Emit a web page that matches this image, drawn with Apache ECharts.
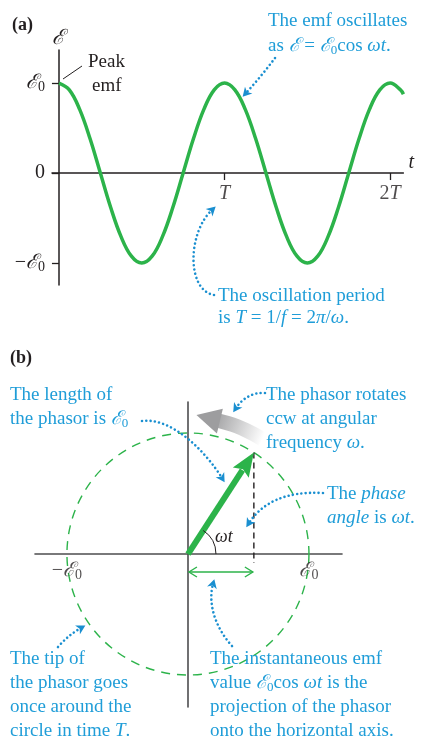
<!DOCTYPE html>
<html><head><meta charset="utf-8">
<script src="https://cdn.jsdelivr.net/npm/echarts@6/dist/echarts.min.js"></script>
<style>html,body{margin:0;padding:0;background:#fff}#c{width:426px;height:741px}</style>
</head><body><div id="c"></div>
<script>
// ---------- data ----------
// (a) emf vs time, t in units of the period T, emf in units of the peak emf
const waveT = [0, 0.0625, 0.125, 0.1875, 0.25, 0.3125, 0.375, 0.4375, 0.5, 0.5625, 0.625, 0.6875, 0.75, 0.8125, 0.875, 0.9375,
               1, 1.0625, 1.125, 1.1875, 1.25, 1.3125, 1.375, 1.4375, 1.5, 1.5625, 1.625, 1.6875, 1.75, 1.8125, 1.875, 1.9375,
               2, 2.0625, 2.08];
const waveE = [1, 0.924, 0.707, 0.383, 0, -0.383, -0.707, -0.924, -1, -0.924, -0.707, -0.383, 0, 0.383, 0.707, 0.924,
               1, 0.924, 0.707, 0.383, 0, -0.383, -0.707, -0.924, -1, -0.924, -0.707, -0.383, 0, 0.383, 0.707, 0.924,
               1, 0.924, 0.876];
const xTickValuesA = [1, 2];
const xTickLabelsA = ['{i|T}', '{n|2}{i|T}'];
const yTickValuesA = [1, 0, -1];
const yTickLabelsA = ['{e|ℰ}{s|0}', '{n|0}', '{n|−}{e|ℰ}{s|0}'];
// (b) phasor
const phasorAngleDeg = [57];
const phasorLength = [1];
const circleRadius = [1];
const xTickValuesB = [-1, 1];
const xTickLabelsB = ['{n|−}{e|ℰ}{s|0}', '{e|ℰ}{s|0}'];

// ---------- styles ----------
const GREEN = '#2cb34a';
const BLUE = '#1f9dd8';
const BLUE2 = '#1a8fd0';
const INK = '#231f20';
const SERIF = 'Liberation Serif';
const SCRIPT = 'DejaVu Serif';

function richSet(color, size) {
  return {
    n: {fontFamily: SERIF, fontSize: size, color: color},
    i: {fontFamily: SERIF, fontSize: size, fontStyle: 'italic', color: color},
    e: {fontFamily: SCRIPT, fontSize: size, fontStyle: 'italic', color: color},
    s: {fontFamily: SERIF, fontSize: Math.round(size * 0.68), color: color, padding: [9, 0, 0, 0]}
  };
}

const chart = echarts.init(document.getElementById('c'), null, {renderer: 'canvas'});

function txt(x, y, text, color, size) {
  return {
    type: 'text', silent: true, z: 10,
    style: {
      x: x, y: y, text: text, fill: color,
      font: size + 'px "' + SERIF + '"',
      verticalAlign: 'middle', align: 'left',
      rich: richSet(color, size)
    }
  };
}

function dotArrow(p0, c1, c2, p3) {
  let dx = p3[0] - c2[0], dy = p3[1] - c2[1];
  const d = Math.hypot(dx, dy); dx /= d; dy /= d;
  const px = -dy, py = dx;
  const tip = [p3[0] + dx * 5, p3[1] + dy * 5];
  const base = [tip[0] - dx * 9, tip[1] - dy * 9];
  return [
    {type: 'bezierCurve', silent: true, z: 10,
     shape: {x1: p0[0], y1: p0[1], cpx1: c1[0], cpy1: c1[1], cpx2: c2[0], cpy2: c2[1], x2: p3[0], y2: p3[1]},
     style: {stroke: BLUE2, lineWidth: 2.6, lineDash: [0.01, 4.3], lineCap: 'round', fill: null}},
    {type: 'polygon', silent: true, z: 10,
     shape: {points: [tip, [base[0] + px * 5, base[1] + py * 5], [base[0] + dx * 2.5, base[1] + dy * 2.5], [base[0] - px * 5, base[1] - py * 5]]},
     style: {fill: BLUE2}}
  ];
}

const graphics = [].concat(
  [
    {type: 'text', silent: true, style: {x: 12, y: 25, text: '(a)', fill: INK, font: 'bold 18px "' + SERIF + '"', verticalAlign: 'middle'}},
    txt(88, 62, 'Peak', INK, 19),
    txt(92, 86, 'emf', INK, 19),
    {type: 'line', silent: true, shape: {x1: 63, y1: 79, x2: 82, y2: 66}, style: {stroke: INK, lineWidth: 1}},
    txt(268, 21, 'The emf oscillates', BLUE, 19),
    txt(268, 46, '{n|as }{e|ℰ}{n| = }{e|ℰ}{s|0}{n|cos }{i|ωt}{n|.}', BLUE, 19),
    txt(218, 296, 'The oscillation period', BLUE, 19),
    txt(218, 318, '{n|is }{i|T}{n| = 1/}{i|f}{n| = 2}{i|π}{n|/}{i|ω}{n|.}', BLUE, 19),
    {type: 'text', silent: true, style: {x: 10, y: 358, text: '(b)', fill: INK, font: 'bold 18px "' + SERIF + '"', verticalAlign: 'middle'}},
    txt(10, 395, 'The length of', BLUE, 19),
    txt(10, 419, '{n|the phasor is }{e|ℰ}{s|0}', BLUE, 19),
    txt(266, 395, 'The phasor rotates', BLUE, 19),
    txt(266, 419, 'ccw at angular', BLUE, 19),
    txt(266, 443, '{n|frequency }{i|ω}{n|.}', BLUE, 19),
    txt(327, 494, '{n|The }{i|phase}', BLUE, 19),
    txt(327, 518, '{i|angle}{n| is }{i|ωt}{n|.}', BLUE, 19),
    txt(215, 537, '{i|ωt}', INK, 18),
    txt(10, 659, 'The tip of', BLUE, 19),
    txt(10, 683, 'the phasor goes', BLUE, 19),
    txt(10, 707, 'once around the', BLUE, 19),
    txt(10, 731, '{n|circle in time }{i|T}{n|.}', BLUE, 19),
    txt(210, 659, 'The instantaneous emf', BLUE, 19),
    txt(210, 683, '{n|value }{e|ℰ}{s|0}{n|cos }{i|ωt}{n| is the}', BLUE, 19),
    txt(210, 707, 'projection of the phasor', BLUE, 19),
    txt(210, 731, 'onto the horizontal axis.', BLUE, 19)
  ],
  dotArrow([275, 58], [266, 70], [256, 82], [246, 93]),
  dotArrow([214, 295], [186, 290], [188, 232], [212, 210]),
  dotArrow([142, 421], [172, 417], [206, 452], [222, 478]),
  dotArrow([265, 393], [252, 392], [242, 399], [236, 408]),
  dotArrow([323, 493], [285, 491], [262, 503], [249, 523]),
  dotArrow([232, 646], [214, 626], [208, 602], [213, 584]),
  dotArrow([58, 647], [65, 639], [72, 633], [81, 628])
);

function renderPhasor(params, api) {
  const a = phasorAngleDeg[0] * Math.PI / 180;
  const L = phasorLength[0];
  const O = api.coord([0, 0]);
  const tip = api.coord([L * Math.cos(a), L * Math.sin(a)]);
  const foot = api.coord([L * Math.cos(a), 0]);
  const sz = api.size([1, 1]);
  const children = [];
  children.push({type: 'circle', shape: {cx: O[0], cy: O[1], r: sz[0] * circleRadius[0]},
    style: {fill: null, stroke: GREEN, lineWidth: 1.4, lineDash: [9, 7]}});
  const pol = (ang, r) => api.coord([r * Math.cos(ang * Math.PI / 180), r * Math.sin(ang * Math.PI / 180)]);
  const body = [];
  const rc = 1.13, hw = 0.06;
  for (let g = 77; g >= 57; g -= 2) body.push(pol(g, rc + hw));
  for (let g = 57; g <= 77; g += 2) body.push(pol(g, rc - hw));
  const pA = pol(80, rc), pB = pol(57, rc);
  const grad = new echarts.graphic.LinearGradient(pA[0], pA[1], pB[0], pB[1],
    [{offset: 0, color: '#9d9d9f'}, {offset: 1, color: '#ffffff'}], true);
  children.push({type: 'polygon', shape: {points: body}, style: {fill: grad}});
  children.push({type: 'polygon', shape: {points: [pol(86.5, 1.15), pol(76.5, 1.235), pol(76.5, 1.025)]},
    style: {fill: '#9d9d9f'}});
  children.push({type: 'line', shape: {x1: tip[0], y1: tip[1], x2: foot[0], y2: foot[1] + 9},
    style: {stroke: INK, lineWidth: 1.4, lineDash: [6, 4]}});
  let dx = tip[0] - O[0], dy = tip[1] - O[1];
  const d = Math.hypot(dx, dy); dx /= d; dy /= d;
  const px = -dy, py = dx;
  const base = [tip[0] - dx * 24, tip[1] - dy * 24];
  children.push({type: 'line', shape: {x1: O[0], y1: O[1], x2: base[0] + dx * 3, y2: base[1] + dy * 3},
    style: {stroke: GREEN, lineWidth: 6}});
  children.push({type: 'polygon', shape: {points: [tip, [base[0] + px * 9.5, base[1] + py * 9.5],
    [base[0] + dx * 4, base[1] + dy * 4], [base[0] - px * 9.5, base[1] - py * 9.5]]}, style: {fill: GREEN}});
  children.push({type: 'arc', shape: {cx: O[0], cy: O[1], r: 28, startAngle: -a, endAngle: 0, clockwise: true},
    style: {stroke: INK, lineWidth: 1, fill: null}});
  const yy = O[1] + 18;
  children.push({type: 'line', shape: {x1: O[0] + 1, y1: yy, x2: foot[0] - 1, y2: yy}, style: {stroke: GREEN, lineWidth: 1.4}});
  children.push({type: 'polyline', shape: {points: [[O[0] + 9, yy - 5], [O[0] + 1, yy], [O[0] + 9, yy + 5]]},
    style: {stroke: GREEN, lineWidth: 1.4, fill: null}});
  children.push({type: 'polyline', shape: {points: [[foot[0] - 9, yy - 5], [foot[0] - 1, yy], [foot[0] - 9, yy + 5]]},
    style: {stroke: GREEN, lineWidth: 1.4, fill: null}});
  return {type: 'group', children: children};
}

function tickLabelSeries(xi, values, labels, distance) {
  return {
    type: 'scatter', xAxisIndex: xi, yAxisIndex: xi, symbol: 'circle', symbolSize: 1, silent: true, z: 5,
    data: values.map((v, i) => ({value: [v, 0], label: {formatter: labels[i]}})),
    label: {show: true, position: 'bottom', distance: distance, color: INK, rich: richSet(INK, 20)},
    itemStyle: {color: 'rgba(0,0,0,0)'},
    emphasis: {disabled: true}
  };
}

const option = {
  animation: false,
  backgroundColor: '#fff',
  grid: [
    {left: 52, top: 50, width: 351.4, height: 235},
    {left: 35, top: 402, width: 307, height: 305}
  ],
  xAxis: [
    {gridIndex: 0, type: 'value', min: -0.042, max: 2.08,
     name: 't', nameLocation: 'end', nameGap: 5,
     nameTextStyle: {fontFamily: SERIF, fontStyle: 'italic', fontSize: 20, color: INK, verticalAlign: 'bottom'},
     axisLine: {onZero: true, lineStyle: {color: INK, width: 1.5}},
     axisTick: {show: true, length: 7, customValues: xTickValuesA, lineStyle: {color: INK, width: 1.3}},
     axisLabel: {show: false},
     splitLine: {show: false}},
    {gridIndex: 1, type: 'value', min: -1.264, max: 1.273,
     axisLine: {onZero: true, lineStyle: {color: '#4d4d4f', width: 1.6}},
     axisTick: {show: false}, axisLabel: {show: false},
     splitLine: {show: false}}
  ],
  yAxis: [
    {gridIndex: 0, type: 'value', min: -1.244, max: 1.367,
     name: '{e|ℰ}', nameLocation: 'end', nameGap: 1,
     nameTextStyle: {rich: richSet(INK, 21), align: 'center'},
     axisLine: {onZero: true, lineStyle: {color: INK, width: 1.5}},
     axisTick: {show: true, length: 7, customValues: yTickValuesA, lineStyle: {color: INK, width: 1.3}},
     axisLabel: {show: true, customValues: yTickValuesA, margin: 7,
       formatter: v => yTickLabelsA[yTickValuesA.indexOf(v)] || '', rich: richSet(INK, 20)},
     splitLine: {show: false}},
    {gridIndex: 1, type: 'value', min: -1.264, max: 1.256,
     axisLine: {onZero: true, lineStyle: {color: '#4d4d4f', width: 1.6}},
     axisTick: {show: false}, axisLabel: {show: false}, splitLine: {show: false}}
  ],
  series: [
    {type: 'line', xAxisIndex: 0, yAxisIndex: 0, smooth: 0.4, showSymbol: false, clip: false,
     data: waveT.map((t, i) => [t, waveE[i]]),
     lineStyle: {color: GREEN, width: 3.5}},
    tickLabelSeries(0, xTickValuesA, xTickLabelsA, 10),
    {type: 'custom', xAxisIndex: 1, yAxisIndex: 1, clip: false, z: 3,
     data: [[0, 0]], renderItem: renderPhasor},
    tickLabelSeries(1, xTickValuesB, xTickLabelsB, 5)
  ],
  graphic: graphics
};
chart.setOption(option);
</script>
</body></html>
